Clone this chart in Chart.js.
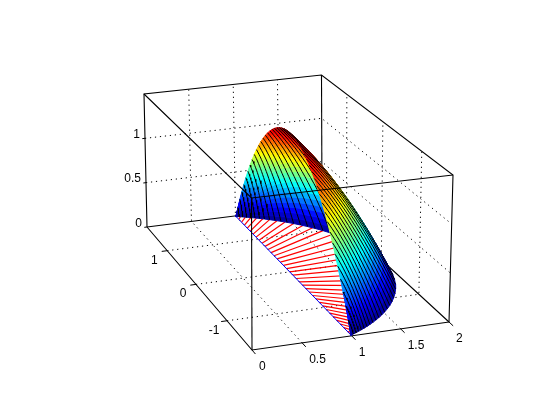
<!DOCTYPE html>
<html>
<head>
<meta charset="utf-8">
<script src="https://cdn.jsdelivr.net/npm/chart.js@4"></script>
<style>
  html, body { margin: 0; padding: 0; background: #fff; }
  canvas { display: block; }
</style>
</head>
<body>
<canvas id="chart" width="560" height="420"></canvas>
<script>
// axis ticks
const xTicks = [0, 0.5, 1, 1.5, 2];
const yTicks = [-1, 0, 1];
const zTicks = [0, 0.5, 1];
const xLimits = [0, 2];
const yLimits = [-1.75, 1.75];
const zLimits = [0, 1.5];

// surface: one ruling per chord point, going from the chord x=1 out to the arc r=2
const chordY = [-1.732, -1.660, -1.588, -1.516, -1.443, -1.371, -1.299, -1.227, -1.155, -1.083, -1.010, -0.938, -0.866, -0.794, -0.722, -0.650, -0.577, -0.505, -0.433, -0.361, -0.289, -0.217, -0.144, -0.072,
  0, 0.072, 0.144, 0.217, 0.289, 0.361, 0.433, 0.505, 0.577, 0.650, 0.722, 0.794, 0.866, 0.938, 1.010, 1.083, 1.155, 1.227, 1.299, 1.371, 1.443, 1.516, 1.588, 1.660, 1.732];
const chordZ = [0, 0.122, 0.240, 0.352, 0.458, 0.560, 0.656, 0.747, 0.833, 0.914, 0.990, 1.060, 1.125, 1.185, 1.240, 1.289, 1.333, 1.372, 1.406, 1.435, 1.458, 1.477, 1.490, 1.497,
  1.5, 1.497, 1.490, 1.477, 1.458, 1.435, 1.406, 1.372, 1.333, 1.289, 1.240, 1.185, 1.125, 1.060, 0.990, 0.914, 0.833, 0.747, 0.656, 0.560, 0.458, 0.352, 0.240, 0.122, 0];
// share of the chord height left at each step along a ruling
const rulingStep = [0, 0.05, 0.1, 0.15, 0.2, 0.25, 0.3, 0.35, 0.4, 0.45, 0.5, 0.55, 0.6, 0.65, 0.7, 0.75, 0.8, 0.85, 0.9, 0.95, 1];
const rulingHeight = [1, 0.966, 0.93, 0.893, 0.853, 0.813, 0.77, 0.726, 0.68, 0.633, 0.583, 0.533, 0.48, 0.426, 0.37, 0.313, 0.253, 0.193, 0.13, 0.066, 0];
const peakZ = 1.5;

// red floor mesh is coarser than the surface mesh
const floorMeshY = [-1.732, -1.636, -1.540, -1.443, -1.347, -1.251, -1.155, -1.059, -0.962, -0.866, -0.770, -0.674, -0.577, -0.481, -0.385, -0.289, -0.192, -0.096,
  0, 0.096, 0.192, 0.289, 0.385, 0.481, 0.577, 0.674, 0.770, 0.866, 0.962, 1.059, 1.155, 1.251, 1.347, 1.443, 1.540, 1.636, 1.732];

// jet colormap stops
const jetStops = [[0, 0, 0, 143], [0.125, 0, 0, 255], [0.375, 0, 255, 255], [0.625, 255, 255, 0], [0.875, 255, 0, 0], [1, 128, 0, 0]];

// where the floor and the lid of the box land, corners in order
// (xmin,ymin) (xmax,ymin) (xmax,ymax) (xmin,ymax)
const floorQuad = [[252, 350], [449, 322], [322, 205], [147, 227]];
const lidQuad = [[251.5, 198], [453, 175], [321.5, 75], [144, 94]];

function quadMap(q) {
  const dx1 = q[1][0] - q[2][0], dx2 = q[3][0] - q[2][0], sx = q[0][0] - q[1][0] + q[2][0] - q[3][0];
  const dy1 = q[1][1] - q[2][1], dy2 = q[3][1] - q[2][1], sy = q[0][1] - q[1][1] + q[2][1] - q[3][1];
  const det = dx1 * dy2 - dx2 * dy1;
  const g = (sx * dy2 - dx2 * sy) / det;
  const h = (dx1 * sy - sx * dy1) / det;
  const a = q[1][0] - q[0][0] + g * q[1][0], b = q[3][0] - q[0][0] + h * q[3][0];
  const d = q[1][1] - q[0][1] + g * q[1][1], e = q[3][1] - q[0][1] + h * q[3][1];
  return (u, v) => {
    const den = g * u + h * v + 1;
    return [(a * u + b * v + q[0][0]) / den, (d * u + e * v + q[0][1]) / den];
  };
}
const floorMap = quadMap(floorQuad);
const lidMap = quadMap(lidQuad);

function project(x, y, z) {
  const u = (x - xLimits[0]) / (xLimits[1] - xLimits[0]);
  const v = (y - yLimits[0]) / (yLimits[1] - yLimits[0]);
  const w = (z - zLimits[0]) / (zLimits[1] - zLimits[0]);
  const f = floorMap(u, v), l = lidMap(u, v);
  return { x: f[0] + (l[0] - f[0]) * w, y: f[1] + (l[1] - f[1]) * w };
}

function jet(level) {
  const t = Math.min(1, Math.max(0, level));
  for (let i = 1; i < jetStops.length; i++) {
    if (t <= jetStops[i][0]) {
      const a = jetStops[i - 1], b = jetStops[i];
      const f = (t - a[0]) / (b[0] - a[0]);
      return `rgb(${[1, 2, 3].map(n => Math.round(a[n] + (b[n] - a[n]) * f)).join(",")})`;
    }
  }
  return "rgb(128,0,0)";
}

function rulingPoint(i, j) {
  const rad = Math.atan(chordY[i]);
  const r0 = 1 / Math.cos(rad);
  const r = r0 + (2 - r0) * rulingStep[j];
  return { x: r * Math.cos(rad), y: r * Math.sin(rad), z: chordZ[i] * rulingHeight[j] };
}

const layers = [];

function addLine(points, color, width, dash) {
  layers.push({
    type: "line",
    data: points.map(p => project(p[0], p[1], p[2])),
    borderColor: color,
    borderWidth: width,
    borderDash: dash || [],
    pointRadius: 0,
    fill: false,
    tension: 0
  });
}

function addQuad(points, color) {
  const corners = points.map(p => project(p.x, p.y, p.z));
  corners.push(corners[0]);
  layers.push({
    type: "line",
    data: corners,
    borderColor: color,
    backgroundColor: color,
    borderWidth: 1,
    pointRadius: 0,
    fill: "shape",
    tension: 0
  });
}

const [x0, x1] = xLimits;
const [y0, y1] = yLimits;
const [z0, z1] = zLimits;
const dots = [1.2, 3.8];
const boxWidth = 1.1;

// back walls and floor grid
zTicks.slice(1).forEach(z => {
  addLine([[x0, y1, z], [x1, y1, z], [x1, y0, z]], "#000", 1, dots);
});
xTicks.slice(1, -1).forEach(x => {
  addLine([[x, y0, z0], [x, y1, z0], [x, y1, z1]], "#000", 1, dots);
});
yTicks.forEach(y => {
  addLine([[x0, y, z0], [x1, y, z0], [x1, y, z1]], "#000", 1, dots);
});

// box edges behind the surface
addLine([[x0, y1, z0], [x1, y1, z0], [x1, y0, z0]], "#000", boxWidth);
addLine([[x1, y1, z0], [x1, y1, z1]], "#000", boxWidth);
addLine([[x0, y1, z0], [x0, y0, z0], [x1, y0, z0]], "#000", boxWidth);
addLine([[x0, y1, z0], [x0, y1, z1], [x1, y1, z1], [x1, y0, z1], [x1, y0, z0]], "#000", boxWidth);

// ticks
xTicks.forEach(x => addLine([[x, y0, z0], [x, y0 - 0.1, z0]], "#000", 1));
yTicks.forEach(y => addLine([[x0, y, z0], [x0 - 0.06, y, z0]], "#000", 1));
zTicks.forEach(z => addLine([[x0, y1, z], [x0 - 0.03, y1, z]], "#000", 1));

// red mesh lying on the floor, blue chord
floorMeshY.forEach(y => {
  const rad = Math.atan(y);
  addLine([[1, y, 0], [2 * Math.cos(rad), 2 * Math.sin(rad), 0]], "#f00", 1.2);
});
addLine([[1, chordY[0], 0], [1, chordY[chordY.length - 1], 0]], "#00f", 1);

// surface, painted from the far side (positive y) to the near side
for (let i = chordY.length - 1; i > 0; i--) {
  for (let j = rulingStep.length - 2; j >= 0; j--) {
    const a = rulingPoint(i, j), b = rulingPoint(i, j + 1);
    const c = rulingPoint(i - 1, j + 1), d = rulingPoint(i - 1, j);
    const mean = (a.z + b.z + c.z + d.z) / 4 / peakZ;
    addQuad([a, b, c, d], jet(mean));
  }
  const line = rulingStep.map((s, j) => {
    const p = rulingPoint(i, j);
    return [p.x, p.y, p.z];
  });
  addLine(line, "#000", 1);
}

// front box edges in front of the surface
addLine([[x0, y1, z1], [x0, y0, z1], [x1, y0, z1]], "#000", boxWidth);
addLine([[x0, y0, z1], [x0, y0, z0]], "#000", boxWidth);

const tickLabels = {
  id: "tickLabels",
  afterDraw(chart) {
    const { ctx, scales } = chart;
    const put = (text, p, dx, dy, align) => {
      ctx.textAlign = align;
      ctx.fillText(text, scales.x.getPixelForValue(p.x) + dx, scales.y.getPixelForValue(p.y) + dy);
    };
    ctx.save();
    ctx.fillStyle = "#000";
    ctx.font = "12px 'Liberation Sans', sans-serif";
    ctx.textBaseline = "middle";
    xTicks.forEach(x => put(String(x), project(x, y0, z0), 7, 17, "left"));
    yTicks.forEach(y => put(String(y), project(x0, y, z0), -13, 9.5, "center"));
    zTicks.forEach(z => put(String(z), project(x0, y1, z), -5, -3.5, "right"));
    ctx.restore();
  }
};

new Chart(document.getElementById("chart").getContext("2d"), {
  type: "line",
  // chart.js paints dataset 0 last
  data: { datasets: layers.slice().reverse() },
  plugins: [tickLabels],
  options: {
    responsive: false,
    animation: false,
    events: [],
    layout: { padding: 0 },
    plugins: { legend: { display: false }, tooltip: { enabled: false }, title: { display: false } },
    scales: {
      x: { type: "linear", display: false, min: 0, max: 560 },
      y: { type: "linear", display: false, min: 0, max: 420, reverse: true }
    }
  }
});
</script>
</body>
</html>
